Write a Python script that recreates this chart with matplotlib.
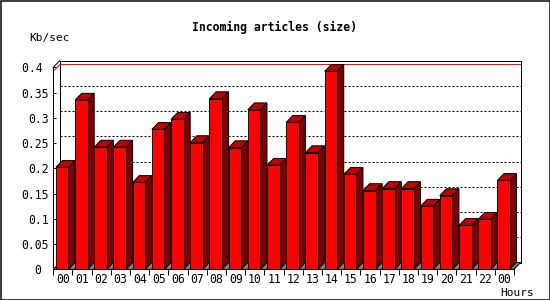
import matplotlib
matplotlib.use("Agg")
import matplotlib.pyplot as plt
from matplotlib.patches import Polygon, Rectangle

hours = ["00", "01", "02", "03", "04", "05", "06", "07", "08", "09", "10", "11",
         "12", "13", "14", "15", "16", "17", "18", "19", "20", "21", "22", "00"]
kbps = [0.202, 0.335, 0.242, 0.242, 0.172, 0.277, 0.297, 0.251, 0.338, 0.241,
        0.316, 0.206, 0.291, 0.231, 0.392, 0.188, 0.156, 0.160, 0.160, 0.125,
        0.146, 0.087, 0.099, 0.176]
yticks = [0, 0.05, 0.1, 0.15, 0.2, 0.25, 0.3, 0.35, 0.4]
ytick_labels = ["0 ", "0.05", "0.1", "0.15", "0.2", "0.25", "0.3", "0.35", "0.4 "]

W, H = 550, 300
FRONT = "#ff0000"
SIDE = "#800000"
TOP = "#c00000"
FLOOR = "#808080"
LW = 0.72  # 1 px

fig = plt.figure(figsize=(W / 100, H / 100), dpi=100)
fig.patch.set_facecolor("white")

# front box of the plot in pixels (from top-left)
x0, x1 = 53.3, 514.0
ytop, ybot = 67.3, 269.3
ax = fig.add_axes([x0 / W, (H - ybot) / H, (x1 - x0) / W, (ybot - ytop) / H])
n = len(kbps)
ymax = 0.4
ax.set_xlim(0, n)
ax.set_ylim(0, ymax)
for s in ax.spines.values():
    s.set_visible(False)
ax.patch.set_visible(False)

# depth of the 3d effect, in data units
px_x = (x1 - x0) / n
px_y = (ybot - ytop) / ymax
DX = 6.6 / px_x
DY = 6.8 / px_y

# back wall + gridlines
ax.add_patch(Rectangle((DX, DY), n, ymax, facecolor="white", edgecolor="black",
                       lw=LW, clip_on=False, zorder=1))
for v in yticks[1:-1]:
    ax.plot([DX, n + DX], [v + DY, v + DY], color="black", lw=LW,
            linestyle=(0, (2, 2)), clip_on=False, zorder=2)

# floor
ax.add_patch(Polygon([(0, 0), (n, 0), (n + DX, DY), (DX, DY)], closed=True,
                     facecolor=FLOOR, edgecolor="black", lw=LW, clip_on=False, zorder=2))

# left wall edges and front axis
ax.plot([0, 0], [0, ymax], color="black", lw=LW, clip_on=False, zorder=3)
ax.plot([0, DX], [ymax, ymax + DY], color="black", lw=LW, clip_on=False, zorder=3)
ax.plot([0, n], [0, 0], color="black", lw=LW, clip_on=False, zorder=3)

# max line
peak = max(kbps)
ax.plot([0, DX, n + DX], [peak, peak + DY, peak + DY], color="red", lw=LW,
        clip_on=False, zorder=2.5)

# bars
off, bw = 2.6 / px_x, 12.5 / px_x
for i, v in enumerate(kbps):
    l = i + off
    r = l + bw
    z = 4 + i * 0.01
    ax.add_patch(Polygon([(r, 0), (r + DX, DY), (r + DX, v + DY), (r, v)], closed=True,
                         facecolor=SIDE, edgecolor="black", lw=LW, clip_on=False, zorder=z))
    ax.add_patch(Polygon([(l, v), (r, v), (r + DX, v + DY), (l + DX, v + DY)], closed=True,
                         facecolor=TOP, edgecolor="black", lw=LW, clip_on=False, zorder=z))
    ax.add_patch(Rectangle((l, 0), bw, v, facecolor=FRONT, edgecolor="black",
                           lw=LW, clip_on=False, zorder=z + 0.001))

# ticks
font = {"family": "DejaVu Sans Mono", "size": 8.3}
ax.set_yticks(yticks)
ax.set_yticklabels(ytick_labels, fontdict=font)
ax.tick_params(axis="y", direction="in", length=2.5, width=LW, pad=3)
ax.set_xticks(range(n + 1))
ax.set_xticklabels([])
ax.set_xticks([i + 0.5 for i in range(n)], minor=True)
ax.set_xticklabels(hours, minor=True, fontdict=font)
ax.tick_params(axis="x", which="major", direction="out", length=4, width=LW)
ax.tick_params(axis="x", which="minor", length=0, pad=2.5)

fig.text(275 / W, 1 - 27 / H, "Incoming articles (size)", ha="center", va="center",
         family="DejaVu Sans Mono", weight="bold", size=8.3)
fig.text(29 / W, 1 - 37.5 / H, "Kb/sec", ha="left", va="center",
         family="DejaVu Sans Mono", size=8)
fig.text(534 / W, 1 - 293 / H, "Hours", ha="right", va="center",
         family="DejaVu Sans Mono", size=8)

# image border
fig.patches.append(Rectangle((0.5 / W, 0.5 / H), 549 / W, 299 / H, transform=fig.transFigure,
                             fill=False, edgecolor="black", lw=LW * 1.5))

fig.savefig("out.png", dpi=100)
